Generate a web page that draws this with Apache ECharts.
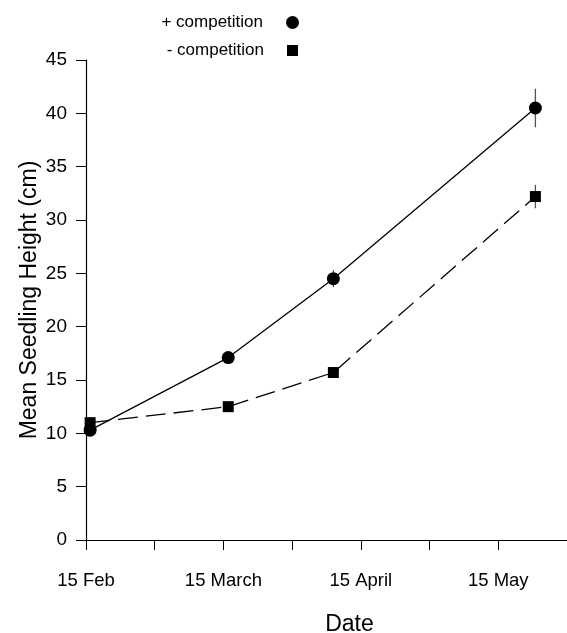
<!DOCTYPE html>
<html>
<head>
<meta charset="utf-8">
<script src="https://cdn.jsdelivr.net/npm/echarts@6/dist/echarts.min.js"></script>
<style>html,body{margin:0;padding:0;background:#fff}#c{width:567px;height:633px}</style>
</head>
<body>
<div id="c"></div>
<script>
// x values: months after 15 Feb
var dates = [0.03, 1.035, 1.80, 3.27];
var monthLabels = ['15 Feb', '15 March', '15 April', '15 May'];
var plusComp = [10.3, 17.1, 24.5, 40.5];
var plusErr = [0.3, 0.4, 0.8, 1.8];
var minusComp = [11.0, 12.5, 15.7, 32.2];
var minusErr = [0.3, 0.3, 0.3, 1.1];

var FONT = 'Liberation Sans, Arial, sans-serif';

function pairs(xs, ys) { return xs.map(function (x, i) { return [x, ys[i]]; }); }
function errData(xs, ys, es) { return xs.map(function (x, i) { return [x, ys[i] - es[i], ys[i] + es[i]]; }); }

function errRender(params, api) {
  var p1 = api.coord([api.value(0), api.value(1)]);
  var p2 = api.coord([api.value(0), api.value(2)]);
  return { type: 'line', shape: { x1: p1[0], y1: p1[1], x2: p2[0], y2: p2[1] },
    style: { stroke: '#555', lineWidth: 1.3 } };
}

var chart = echarts.init(document.getElementById('c'));
chart.setOption({
  animation: false,
  backgroundColor: '#fff',
  textStyle: { fontFamily: FONT },
  grid: { left: 86, right: 0, top: 60, bottom: 93, containLabel: false, outerBoundsMode: 'none' },
  legend: [
    { data: [{ name: '+ competition', icon: 'circle' }], right: 263, top: 9, align: 'right',
      itemWidth: 13, itemHeight: 13, itemGap: 0,
      textStyle: { fontSize: 17, color: '#000', fontFamily: FONT, padding: [0, 18, 0, 0] },
      itemStyle: { color: '#000' } },
    { data: [{ name: '- competition', icon: 'rect' }], right: 264, top: 37, align: 'right',
      itemWidth: 11, itemHeight: 11, itemGap: 0,
      textStyle: { fontSize: 17, color: '#000', fontFamily: FONT, padding: [0, 18, 0, 0] },
      itemStyle: { color: '#000' } }
  ],
  xAxis: {
    type: 'value', min: 0, max: 3.5, interval: 0.5,
    name: 'Date', nameLocation: 'middle', nameGap: 73, nameMoveOverlap: false,
    nameTextStyle: { fontSize: 23, color: '#000', fontFamily: FONT, padding: [0, 0, 0, 46] },
    axisLine: { show: true, lineStyle: { color: '#000', width: 1.2 } },
    axisTick: { show: true, inside: false, length: 10, lineStyle: { color: '#000' } },
    splitLine: { show: false },
    axisLabel: { margin: 31, fontSize: 18.5, color: '#000', fontFamily: FONT,
      formatter: function (v) { return (Math.abs(v - Math.round(v)) < 1e-6) ? (monthLabels[Math.round(v)] || '') : ''; } }
  },
  yAxis: {
    type: 'value', min: 0, max: 45, interval: 5,
    name: 'Mean Seedling Height (cm)', nameLocation: 'middle', nameGap: 45, nameMoveOverlap: false,
    nameTextStyle: { fontSize: 23, color: '#000', fontFamily: FONT },
    axisLine: { show: true, lineStyle: { color: '#000', width: 1.2 } },
    axisTick: { show: true, inside: false, length: 10, lineStyle: { color: '#000' } },
    splitLine: { show: false },
    axisLabel: { margin: 19, fontSize: 19, color: '#000', fontFamily: FONT }
  },
  series: [
    { type: 'custom', renderItem: errRender, data: errData(dates, plusComp, plusErr), z: 1, silent: true,
      encode: { x: 0, y: [1, 2] } },
    { type: 'custom', renderItem: errRender, data: errData(dates, minusComp, minusErr), z: 1, silent: true,
      encode: { x: 0, y: [1, 2] } },
    { name: '+ competition', type: 'line', data: pairs(dates, plusComp), z: 3,
      symbol: 'circle', symbolSize: 13, itemStyle: { color: '#000' },
      lineStyle: { color: '#000', width: 1.3, type: 'solid' } },
    { name: '- competition', type: 'line', data: pairs(dates, minusComp), z: 2,
      symbol: 'rect', symbolSize: 11, itemStyle: { color: '#000' },
      lineStyle: { color: '#000', width: 1.3, type: [20, 8] } }
  ]
});
</script>
</body>
</html>
